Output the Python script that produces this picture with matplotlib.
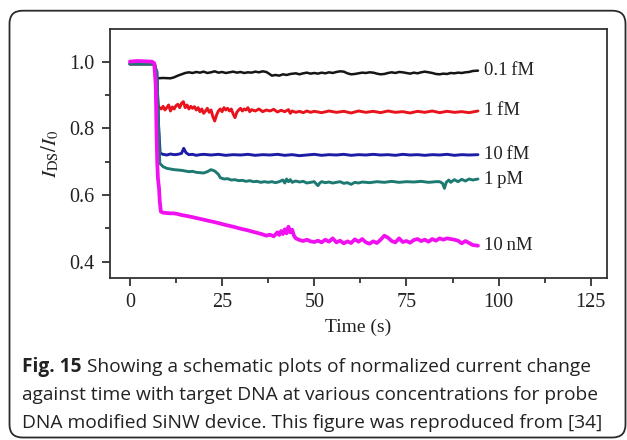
import matplotlib
matplotlib.use("Agg")
import matplotlib.pyplot as plt
from matplotlib.patches import FancyBboxPatch
from matplotlib import font_manager as fm

serif = ["Liberation Serif", "DejaVu Serif"]
plt.rcParams["font.family"] = serif
plt.rcParams["mathtext.fontset"] = "stix"
SERIF_PATH = fm.findfont(fm.FontProperties(family="Liberation Serif"))

# ---------------- data ----------------
t_01fM = [0, 2, 4, 6, 6.8, 7.2, 7.5, 9, 11, 12, 13, 14, 15, 16, 17, 18, 19, 20, 21, 22, 23, 24, 25, 26, 27, 28, 29, 30,
          31, 32, 33, 34, 35, 36, 37, 38, 38.5, 39.5, 40.5, 41.5, 42.5, 43.5, 45, 46, 47, 48, 49, 50, 51, 52, 53, 54,
          55, 56, 57, 58, 59, 60, 61, 62, 63, 64, 65, 66, 67, 68, 69, 70, 71, 72, 73, 74, 75, 76, 77, 78, 79, 80, 81,
          82, 83, 84, 85, 86, 87, 88, 89, 90, 91, 92, 93, 94.4]
v_01fM = [0.993, 0.995, 0.994, 0.994, 0.990, 0.955, 0.950, 0.951, 0.950, 0.953, 0.958, 0.962, 0.966, 0.968, 0.966,
          0.969, 0.967, 0.970, 0.966, 0.968, 0.971, 0.967, 0.969, 0.966, 0.968, 0.970, 0.967, 0.969, 0.966, 0.968,
          0.967, 0.970, 0.968, 0.971, 0.969, 0.962, 0.958, 0.960, 0.958, 0.962, 0.960, 0.963, 0.965, 0.962, 0.965,
          0.967, 0.964, 0.966, 0.964, 0.967, 0.965, 0.968, 0.966, 0.969, 0.971, 0.970, 0.965, 0.962, 0.963, 0.965,
          0.967, 0.966, 0.968, 0.967, 0.964, 0.962, 0.963, 0.966, 0.968, 0.966, 0.969, 0.968, 0.966, 0.964, 0.967,
          0.965, 0.968, 0.970, 0.968, 0.966, 0.963, 0.962, 0.964, 0.963, 0.966, 0.965, 0.967, 0.966, 0.968, 0.969,
          0.972, 0.973]

t_1fM = [0, 6, 6.8, 7.3, 7.6, 8, 8.5, 9, 9.5, 10, 10.5, 11, 11.5, 12, 12.5, 13, 13.5, 14, 14.5, 15, 15.5, 16, 16.5,
         17, 17.5, 18, 18.5, 19, 19.5, 20, 20.5, 21, 21.5, 22, 22.5, 23, 23.5, 24, 24.5, 25, 25.5, 26, 26.5, 27, 27.5,
         28, 28.5, 29, 29.5, 30, 30.5, 31, 31.5, 32, 32.5, 33, 34, 35, 36, 37, 38, 39, 40, 41, 42, 43, 43.5, 44, 45,
         46, 47, 48, 49, 50, 52, 54, 56, 58, 60, 62, 64, 66, 68, 70, 72, 74, 76, 78, 80, 82, 84, 86, 88, 90, 92, 94.4]
v_1fM = [0.993, 0.993, 0.990, 0.950, 0.870, 0.862, 0.858, 0.866, 0.855, 0.862, 0.870, 0.852, 0.864, 0.858, 0.868,
         0.872, 0.862, 0.875, 0.880, 0.862, 0.870, 0.858, 0.866, 0.860, 0.865, 0.855, 0.862, 0.850, 0.858, 0.845,
         0.852, 0.860, 0.848, 0.855, 0.835, 0.822, 0.840, 0.852, 0.858, 0.850, 0.862, 0.855, 0.860, 0.852, 0.858,
         0.843, 0.832, 0.848, 0.855, 0.860, 0.852, 0.858, 0.855, 0.862, 0.850, 0.856, 0.852, 0.858, 0.850, 0.855,
         0.852, 0.857, 0.849, 0.854, 0.850, 0.856, 0.845, 0.852, 0.848, 0.851, 0.847, 0.852, 0.848, 0.851, 0.847,
         0.852, 0.848, 0.851, 0.846, 0.852, 0.848, 0.851, 0.847, 0.852, 0.848, 0.850, 0.846, 0.851, 0.848, 0.852,
         0.847, 0.851, 0.848, 0.850, 0.847, 0.852]

t_10fM = [0, 6.5, 7.3, 7.8, 8.2, 9, 10, 11, 12, 13, 14, 14.6, 15.2, 16, 17, 18, 19, 20, 22, 24, 26, 28, 30, 32, 34,
          36, 38, 40, 42, 44, 46, 48, 50, 52, 54, 56, 58, 60, 62, 64, 66, 68, 70, 72, 74, 76, 78, 80, 82, 84, 86, 88,
          90, 92, 94.4]
v_10fM = [0.993, 0.993, 0.970, 0.800, 0.725, 0.722, 0.720, 0.723, 0.721, 0.722, 0.725, 0.740, 0.727, 0.721, 0.722,
          0.719, 0.721, 0.722, 0.720, 0.722, 0.719, 0.721, 0.720, 0.722, 0.719, 0.721, 0.720, 0.722, 0.719, 0.721,
          0.718, 0.720, 0.722, 0.719, 0.721, 0.720, 0.722, 0.719, 0.721, 0.720, 0.722, 0.720, 0.721, 0.719, 0.722,
          0.720, 0.721, 0.719, 0.721, 0.720, 0.722, 0.719, 0.721, 0.720, 0.721]

t_1pM = [0, 6.5, 7.3, 7.8, 8.1, 9, 10, 11, 12, 13, 14, 15, 16, 17, 18, 19, 20, 21, 22, 23, 24, 24.5, 25.5, 26.5,
         27.5, 28.5, 29.5, 30.5, 31.5, 32.5, 33.5, 34.5, 35.5, 36.5, 37.5, 38.5, 39.5, 40.5, 41.5, 42, 42.5, 43, 43.5,
         44, 45, 46, 47, 48, 49, 50, 51, 51.5, 52, 53, 54, 55, 56, 57, 58, 59, 60, 61, 62, 63, 65, 67, 69, 71, 73, 75,
         77, 79, 81, 83, 84, 84.8, 85.3, 85.8, 86.5, 87, 88, 89, 90, 91, 92, 93, 94.4]
v_1pM = [0.993, 0.993, 0.970, 0.800, 0.695, 0.685, 0.680, 0.678, 0.676, 0.675, 0.674, 0.672, 0.670, 0.671, 0.668,
         0.667, 0.666, 0.670, 0.676, 0.672, 0.662, 0.652, 0.648, 0.649, 0.645, 0.646, 0.643, 0.644, 0.641, 0.643,
         0.640, 0.641, 0.638, 0.640, 0.638, 0.640, 0.637, 0.640, 0.645, 0.636, 0.648, 0.640, 0.646, 0.638, 0.642,
         0.639, 0.641, 0.636, 0.638, 0.640, 0.628, 0.636, 0.640, 0.637, 0.639, 0.636, 0.638, 0.640, 0.635, 0.637,
         0.632, 0.638, 0.636, 0.639, 0.637, 0.640, 0.638, 0.641, 0.638, 0.640, 0.639, 0.641, 0.638, 0.640, 0.640,
         0.635, 0.620, 0.638, 0.645, 0.638, 0.646, 0.640, 0.647, 0.642, 0.648, 0.645, 0.648]

t_10nM = [0, 2, 4, 6, 6.6, 7.0, 7.2, 7.4, 7.6, 7.9, 8.1, 8.4, 9, 10, 11, 12, 13, 14, 16, 18, 20, 22, 24, 26, 28, 30,
          32, 34, 36, 37, 38, 39, 40, 40.5, 41, 41.5, 42, 42.5, 43, 43.5, 44, 44.5, 45, 46, 47, 48, 49, 50, 51, 52,
          53, 54, 55, 56, 57, 58, 59, 60, 61, 62, 63, 64, 65, 66, 67, 68, 69, 70, 71, 72, 73, 74, 75, 76, 77, 78, 79,
          80, 81, 82, 83, 84, 85, 86, 87, 88, 89, 90, 91, 92, 93, 94.4]
v_10nM = [1.000, 1.002, 1.001, 1.000, 0.995, 0.930, 0.800, 0.700, 0.650, 0.620, 0.580, 0.550, 0.547, 0.546, 0.545,
          0.545, 0.543, 0.540, 0.536, 0.531, 0.526, 0.521, 0.516, 0.510, 0.505, 0.499, 0.494, 0.488, 0.482, 0.478,
          0.481, 0.476, 0.488, 0.480, 0.492, 0.483, 0.497, 0.485, 0.505, 0.488, 0.496, 0.478, 0.470, 0.465, 0.462,
          0.466, 0.461, 0.459, 0.463, 0.458, 0.466, 0.460, 0.470, 0.458, 0.463, 0.455, 0.461, 0.456, 0.467, 0.460,
          0.468, 0.458, 0.454, 0.461, 0.456, 0.466, 0.478, 0.472, 0.462, 0.458, 0.470, 0.459, 0.462, 0.457, 0.465,
          0.468, 0.462, 0.466, 0.460, 0.468, 0.463, 0.470, 0.466, 0.470, 0.468, 0.466, 0.463, 0.455, 0.462, 0.456,
          0.450, 0.448]

series_labels = ["0.1\u2009fM", "1\u2009fM", "10\u2009fM", "1\u2009pM", "10\u2009nM"]
x_ticks = [0, 25, 50, 75, 100, 125]
y_ticks = [0.4, 0.6, 0.8, 1.0]
caption_bold = "Fig. 15"
caption_rest = [" Showing a schematic plots of normalized current change",
                "against time with target DNA at various concentrations for probe",
                "DNA modified SiNW device. This figure was reproduced from [34]"]

# ---------------- figure ----------------
W, H = 627, 440
fig = plt.figure(figsize=(W / 100, H / 100), dpi=100)
fig.patch.set_facecolor("white")

# rounded frame
x0, y0, x1, y1 = 9.5, 2.5, 625.5, 429.3  # px (y from bottom)
frame = FancyBboxPatch((x0 / 100, y0 / 100), (x1 - x0) / 100, (y1 - y0) / 100,
                       boxstyle="round,pad=0,rounding_size=0.13",
                       transform=fig.dpi_scale_trans, fill=False,
                       edgecolor="#2a2a2a", linewidth=1.3, zorder=0)
fig.patches.append(frame)

ax = fig.add_axes([110 / W, 1 - 277.7 / H, (607 - 110) / W, (277.7 - 29.3) / H])

series = [(t_01fM, v_01fM, "#151515", 1.8),
          (t_1fM, v_1fM, "#e8131c", 2.1),
          (t_10fM, v_10fM, "#1c1ca6", 2.1),
          (t_1pM, v_1pM, "#1d7a72", 2.1),
          (t_10nM, v_10nM, "#f010f0", 2.7)]

for (t, v, c, lw), lab in zip(series, series_labels):
    ax.plot(t, v, color=c, lw=lw, solid_joinstyle="round", solid_capstyle="round")
    ax.annotate(lab, xy=(t[-1], v[-1]), xytext=(4, 0), textcoords="offset points",
                ha="left", va="center", fontsize=13.5, color="#222222")

ax.set_xlim(-5.4, 129.4)
ax.set_ylim(0.352, 1.097)
ax.set_xticks(x_ticks)
ax.set_xticks([12.5, 37.5, 62.5, 87.5, 112.5], minor=True)
ax.set_yticks(y_ticks)
ax.set_yticks([0.5, 0.7, 0.9], minor=True)

tick_fp = fm.FontProperties(fname=SERIF_PATH, size=14.5)
ax.set_xticklabels([str(v) for v in x_ticks], fontproperties=tick_fp)
ax.set_yticklabels([f"{v:.1f}" for v in y_ticks], fontproperties=tick_fp)

for s in ax.spines.values():
    s.set_linewidth(1.3)
    s.set_color("#333333")
ax.tick_params(which="major", direction="out", length=6, width=1.3, color="#333333",
               labelcolor="#222222", pad=5)
ax.tick_params(which="minor", direction="out", length=3.5, width=1.3, color="#333333")

ax.set_xlabel("Time (s)", fontsize=14, color="#222222", labelpad=5)
ax.set_ylabel(r"$I_{\rm DS}/I_0$", fontsize=15, color="#222222", labelpad=6)

# caption
cap_fs = 13.8
cap_family = ["Open Sans", "DejaVu Sans"]
line_y = [367, 395, 423]  # px from top (centers)
tb = fig.text(22 / W, 1 - line_y[0] / H, caption_bold, fontsize=cap_fs, family=cap_family,
              weight="bold", va="center", ha="left", color="#222222")
bb = tb.get_window_extent(renderer=fig.canvas.get_renderer())
fig.text(bb.x1 / W, 1 - line_y[0] / H, caption_rest[0], fontsize=cap_fs, family=cap_family,
         va="center", ha="left", color="#222222")
for s, yy in zip(caption_rest[1:], line_y[1:]):
    fig.text(22 / W, 1 - yy / H, s, fontsize=cap_fs, family=cap_family,
             va="center", ha="left", color="#222222")

fig.savefig("out.png", dpi=100, facecolor="white")
